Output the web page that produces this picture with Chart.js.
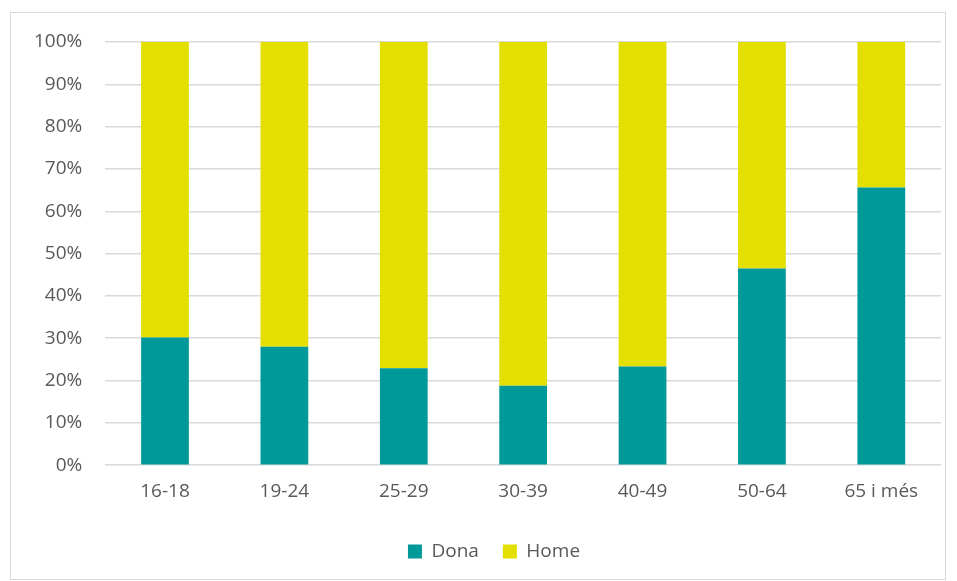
<!DOCTYPE html>
<html>
<head>
<meta charset="utf-8">
<script src="https://cdn.jsdelivr.net/npm/chart.js@4"></script>
<style>
  body { margin: 0; background: #fff; }
  #box { position: absolute; left: 10px; top: 12px; width: 934px; height: 566px; border: 1px solid #d9d9d9; }
</style>
</head>
<body>
<div id="box"><canvas id="myChart"></canvas></div>
<script>
var labels = ["16-18", "19-24", "25-29", "30-39", "40-49", "50-64", "65 i més"];
var dona = [0.302, 0.280, 0.229, 0.188, 0.233, 0.465, 0.656];
var home = [0.698, 0.720, 0.771, 0.812, 0.767, 0.535, 0.344];

var ctx = document.getElementById("myChart");
Chart.defaults.font.family = "'Open Sans', sans-serif";
Chart.defaults.color = "#595959";

// legend sits a bit right of centre in the original
var shiftLegend = {
    id: 'shiftLegend',
    afterLayout: function (chart) {
        chart.legend.left += 18;
        chart.legend.right += 18;
    }
};

var myChart = new Chart(ctx, {
    type: 'bar',
    data: {
        labels: labels,
        datasets: [
            { label: "Dona", data: dona, backgroundColor: "#009999" },
            { label: "Home", data: home, backgroundColor: "#e3df00" }
        ]
    },
    options: {
        responsive: true,
        maintainAspectRatio: false,
        animation: false,
        layout: { padding: { left: 0, right: 4, top: 29, bottom: 8 } },
        datasets: { bar: { categoryPercentage: 1, barPercentage: 0.4 } },
        scales: {
            x: {
                stacked: true,
                grid: { display: false },
                border: { display: false },
                ticks: { font: { size: 19 }, padding: 7 },
                afterFit: function (scale) { scale.height += 8; }
            },
            y: {
                stacked: true,
                min: 0,
                max: 1,
                ticks: {
                    stepSize: 0.1,
                    font: { size: 19 },
                    padding: 23,
                    callback: function (v) { return Math.round(v * 100) + "%"; }
                },
                afterFit: function (scale) { scale.paddingTop = 12; },
                grid: { color: "#d9d9d9", lineWidth: 1.5, drawTicks: false },
                border: { display: false }
            }
        },
        plugins: {
            tooltip: { enabled: false },
            legend: {
                position: 'bottom',
                labels: { boxWidth: 14, boxHeight: 14, font: { size: 19 }, padding: 24 }
            }
        }
    },
    plugins: [shiftLegend]
});
</script>
</body>
</html>
